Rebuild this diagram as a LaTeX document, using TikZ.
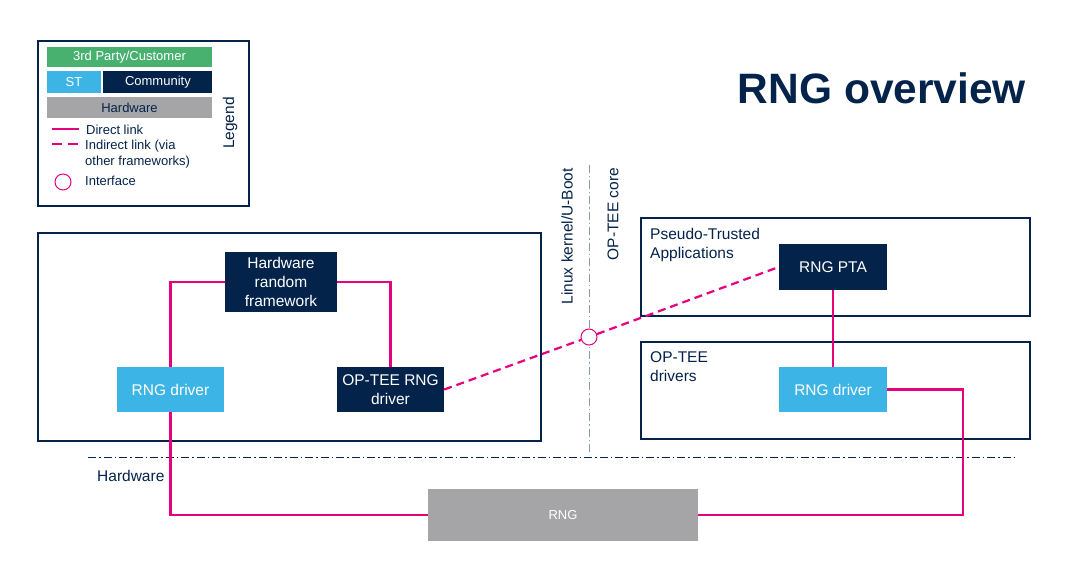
\documentclass[tikz,border=0pt]{standalone}
\usepackage{fontspec}
\setmainfont{Liberation Sans}
\usetikzlibrary{positioning}
\definecolor{stnavy}{HTML}{03234B}
\definecolor{stblue}{HTML}{3CB4E6}
\definecolor{stgreen}{HTML}{49B170}
\definecolor{stgrey}{HTML}{A5A5A8}
\definecolor{stpink}{HTML}{E6007E}
\definecolor{stline}{HTML}{8A98AE}
\newcommand{\mainsize}{\fontsize{15.5}{19}\selectfont}
\newcommand{\legsize}{\fontsize{13}{16}\selectfont}

\tikzset{
  block/.style = {minimum width = 107pt, minimum height = 45pt,
    inner sep = 0pt, align = center, text = white, font = \mainsize},
  community/.style = {block, fill = stnavy},
  stblock/.style = {block, fill = stblue},
  hwblock/.style = {block, fill = stgrey},
  area/.style = {draw = stnavy, line width = 1.2pt, inner sep = 0pt},
  arealabel/.style = {anchor = north west, align = left, inner sep = 0pt,
    text = stnavy, font = \mainsize},
  legitem/.style = {inner sep = 0pt, font = \legsize, text = white},
  legtext/.style = {anchor = west, align = left, inner sep = 0pt,
    text = stnavy, font = \legsize},
  link/.style = {draw = stpink, line width = 2.2pt},
  indirect/.style = {link, dash pattern = on 8pt off 5pt},
  iface/.style = {circle, draw = stpink, fill = white, minimum size = 16pt,
    inner sep = 0pt, line width = 1pt},
  border/.style = {line width = 1pt,
    dash pattern = on 8pt off 3pt on 1.5pt off 3pt},
}

\begin{document}
\begin{tikzpicture}[x = 1pt, y = -1pt]
  \useasboundingbox (0,0) rectangle (1067,564);

  % legend
  \node [draw = stnavy, line width = 1.6pt, minimum width = 211pt,
    minimum height = 165pt] (Legend) at (143.5,123.5) {};
  \node [legitem, fill = stgreen, minimum width = 165pt,
    minimum height = 20pt] (Customer) at (129.5,57) {3rd Party/Customer};
  \node [legitem, fill = stblue, minimum width = 54pt,
    minimum height = 22pt] (ST) at (74,82) {ST};
  \node [legitem, fill = stnavy, minimum width = 109pt,
    minimum height = 22pt, right = 2pt of ST] (Community) {Community};
  \node [legitem, fill = stgrey, text = stnavy, minimum width = 165pt,
    minimum height = 21pt] (LegHw) at (129.5,107.5) {Hardware};
  \coordinate (directA) at (52,129);
  \coordinate (directB) at (79,129);
  \draw [link, line width = 1.8pt] (directA) -- (directB);
  \node [legtext] (directTxt) at (86,130) {Direct link};
  \coordinate (indirA) at (52,144);
  \coordinate (indirB) at (79,144);
  \draw [indirect, line width = 1.8pt, dash pattern = on 10pt off 6pt]
    (indirA) -- (indirB);
  \node [legtext, anchor = north west] (indirTxt) at (85,140)
    {Indirect link (via\\other frameworks)};
  \node [iface] (legIface) at (63,182) {};
  \node [legtext] (ifaceTxt) at (85,181) {Interface};
  \node [legtext, anchor = center, rotate = 90, font = \mainsize]
    (legendTxt) at (230,123) {Legend};

  % title
  \node [text = stnavy, inner sep = 0pt,
    font = \fontsize{42.5}{48}\selectfont\bfseries] (Title) at (882,88)
    {RNG overview};

  % areas
  \node [area, minimum width = 503pt, minimum height = 208pt]
    (Linux) at (289.5,337) {};
  \node [area, minimum width = 389pt, minimum height = 98pt]
    (PTAarea) at (835.5,267) {};
  \node [area, minimum width = 389pt, minimum height = 97pt]
    (DrvArea) at (835.5,390.5) {};
  \node [arealabel] (PTAlabel) at (650,228) {Pseudo-Trusted\\Applications};
  \node [arealabel] (DrvLabel) at (650,351) {OP-TEE\\drivers};

  % blocks
  \node [community, minimum width = 112pt, minimum height = 60pt]
    (HwRandom) at (281,282) {Hardware\\random\\framework};
  \node [stblock] (RngDrvL) at (170.5,389.5) {RNG driver};
  \node [community] (OpteeDrv) at (390.5,389.5) {OP-TEE RNG\\driver};
  \node [community, minimum width = 108pt, minimum height = 46pt]
    (RngPta) at (833,267) {RNG PTA};
  \node [stblock, minimum width = 108pt] (RngDrvR) at (833,389.5)
    {RNG driver};
  \node [hwblock, minimum width = 270pt, minimum height = 52pt,
    font = \legsize] (Rng) at (563,515) {RNG};

  % boundaries
  \coordinate (bTop) at (589,165);
  \coordinate (bBot) at (589,455);
  \draw [border, draw = stline] (bTop) -- (bBot);
  \coordinate (hwLeft) at (88,457);
  \coordinate (hwRight) at (1015,457);
  \draw [border, draw = stnavy] (hwLeft) -- (hwRight);
  \node [arealabel, anchor = east, rotate = 90] (LinuxTxt) at (567,168)
    {Linux kernel/U-Boot};
  \node [arealabel, anchor = east, rotate = 90] (CoreTxt) at (613,168)
    {OP-TEE core};
  \node [arealabel, anchor = west] (HwTxt) at (97,476) {Hardware};
  \node [iface] (Iface) at (589,337) {};

  % links
  \draw [link] (HwRandom.west) -| (RngDrvL.north);
  \draw [link] (HwRandom.east) -| (OpteeDrv.north);
  \draw [link] (RngPta.south) -- (RngDrvR.north);
  \draw [link] (RngDrvL.south) |- (Rng.west);
  \coordinate (rngTurn) at (963,515);
  \draw [link] (RngDrvR.east) -| (rngTurn) -- (Rng.east);
  \draw [indirect] (OpteeDrv.east) -- (Iface);
  \draw [indirect] (Iface) -- (RngPta.west);
\end{tikzpicture}
\end{document}
